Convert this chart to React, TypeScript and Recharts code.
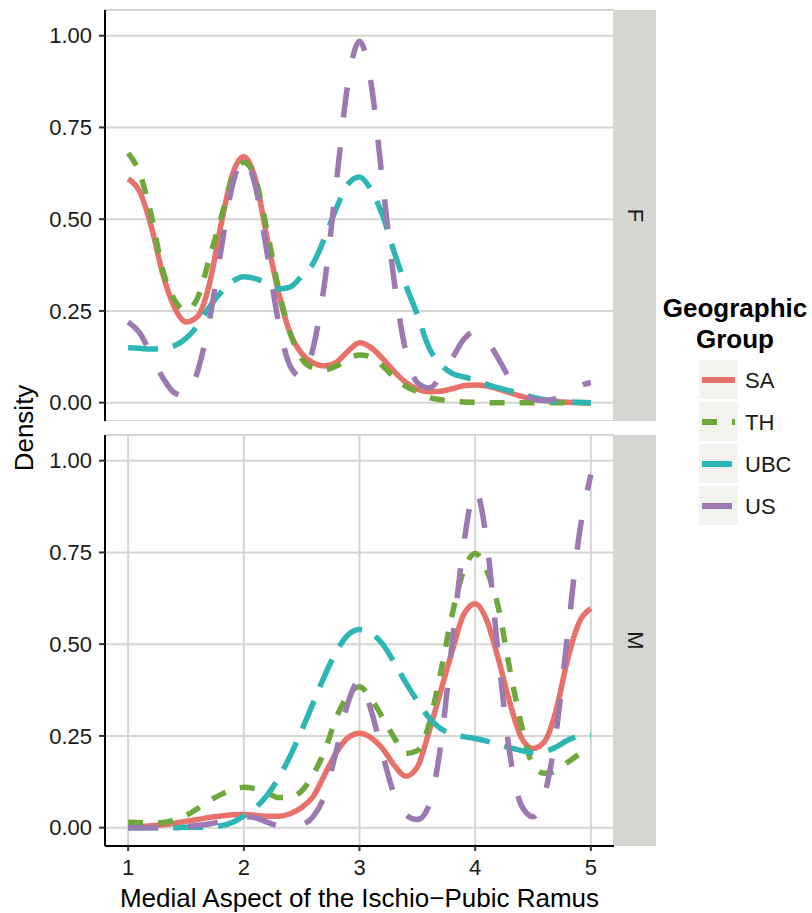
import { LineChart, Line, XAxis, YAxis, CartesianGrid } from "recharts";

// density estimates, read at steps of 0.1 along the score axis
const xValues = [
  1.0, 1.1, 1.2, 1.3, 1.4, 1.5, 1.6, 1.7, 1.8, 1.9, 2.0, 2.1, 2.2, 2.3, 2.4, 2.5, 2.6, 2.7, 2.8, 2.9, 3.0,
  3.1, 3.2, 3.3, 3.4, 3.5, 3.6, 3.7, 3.8, 3.9, 4.0, 4.1, 4.2, 4.3, 4.4, 4.5, 4.6, 4.7, 4.8, 4.9, 5.0,
];

const femaleSA = [
  0.61, 0.575, 0.48, 0.35, 0.26, 0.22, 0.235, 0.32, 0.48, 0.62, 0.67, 0.61, 0.45, 0.3, 0.19, 0.134, 0.108, 0.1, 0.11, 0.14, 0.163,
  0.15, 0.12, 0.085, 0.055, 0.037, 0.03, 0.031, 0.038, 0.046, 0.048, 0.045, 0.037, 0.027, 0.017, 0.01, 0.006, 0.003, 0.001, 0, 0,
];
const femaleTH = [
  0.68, 0.625, 0.51, 0.36, 0.28, 0.252, 0.285, 0.39, 0.5, 0.61, 0.655, 0.61, 0.47, 0.31, 0.19, 0.12, 0.095, 0.09, 0.1, 0.12, 0.13,
  0.125, 0.1, 0.07, 0.045, 0.03, 0.015, 0.008, 0.004, 0.002, 0.001, 0, 0, 0, 0, 0, 0, 0, 0, 0, 0,
];
const femaleUBC = [
  0.15, 0.148, 0.146, 0.148, 0.155, 0.175, 0.21, 0.26, 0.3, 0.33, 0.343, 0.338, 0.325, 0.31, 0.315, 0.345, 0.38, 0.45, 0.53, 0.595, 0.615,
  0.58, 0.51, 0.41, 0.32, 0.24, 0.15, 0.105, 0.08, 0.07, 0.062, 0.05, 0.04, 0.032, 0.025, 0.015, 0.008, 0.004, 0.002, 0.001, 0,
];
const femaleUS = [
  0.22, 0.19, 0.13, 0.068, 0.027, 0.018, 0.085, 0.22, 0.41, 0.59, 0.665, 0.59, 0.41, 0.22, 0.1, 0.07, 0.15, 0.33, 0.6, 0.87, 0.985,
  0.87, 0.6, 0.33, 0.14, 0.055, 0.04, 0.07, 0.12, 0.172, 0.195, 0.172, 0.12, 0.065, 0.028, 0.01, 0.006, 0.012, 0.025, 0.045, 0.055,
];

const maleSA = [
  0.002, 0.003, 0.005, 0.008, 0.012, 0.017, 0.022, 0.028, 0.032, 0.035, 0.036, 0.034, 0.031, 0.031, 0.038, 0.055, 0.085, 0.145, 0.205, 0.245, 0.257,
  0.245, 0.215, 0.17, 0.14, 0.165, 0.26, 0.37, 0.48, 0.58, 0.61, 0.565, 0.46, 0.34, 0.245, 0.216, 0.235, 0.32, 0.46, 0.56, 0.597,
];
const maleTH = [
  0.015, 0.014, 0.013, 0.014, 0.02, 0.033, 0.052, 0.073, 0.09, 0.104, 0.11, 0.106, 0.095, 0.082, 0.083, 0.1, 0.145, 0.21, 0.3, 0.36, 0.384,
  0.35, 0.3, 0.245, 0.202, 0.21, 0.28, 0.42, 0.58, 0.7, 0.747, 0.7, 0.6, 0.43, 0.28, 0.17, 0.148, 0.155, 0.178, 0.2, 0.218,
];
const maleUBC = [
  0, 0, 0, 0, 0, 0.001, 0.001, 0.002, 0.005, 0.014, 0.032, 0.054, 0.088, 0.135, 0.195, 0.265, 0.34, 0.415, 0.48, 0.525, 0.54,
  0.53, 0.5, 0.45, 0.395, 0.345, 0.3, 0.27, 0.255, 0.248, 0.243, 0.236, 0.227, 0.218, 0.21, 0.205, 0.208, 0.22, 0.238, 0.25, 0.252,
];
const maleUS = [
  0, 0, 0, 0.001, 0.002, 0.003, 0.006, 0.01, 0.016, 0.024, 0.03, 0.027, 0.015, 0.005, 0.002, 0.008, 0.03, 0.09, 0.21, 0.34, 0.4,
  0.32, 0.2, 0.09, 0.035, 0.022, 0.06, 0.22, 0.5, 0.77, 0.92, 0.78, 0.47, 0.2, 0.06, 0.03, 0.09, 0.26, 0.53, 0.8, 0.962,
];

const groups = ["SA", "TH", "UBC", "US"];
const panels = ["F", "M"];
const xTicks = [1, 2, 3, 4, 5];
const yTicks = [0, 0.25, 0.5, 0.75, 1];

const COLORS: Record<string, string> = { SA: "#e8716a", TH: "#6ea83c", UBC: "#2db7b4", US: "#9c79b0" };
const DASHES: Record<string, string | undefined> = { SA: undefined, TH: "15 15", UBC: "30 15", US: "30 30" };

const FONT = "'Liberation Sans', Arial, Helvetica, sans-serif";
const GRID = "#d6d6d0";
const STRIP = "#d5d5d1";

// plot box, shared by both facets
const PLOT_LEFT = 105;
const PLOT_RIGHT = 614;
const PANEL_H = 411;
const TOP_Y = 10;
const BOTTOM_Y = 435;

function toRows(series: number[][]) {
  return xValues.map((x, i) => {
    const row: Record<string, number> = { x };
    groups.forEach((g, j) => {
      row[g] = series[j][i];
    });
    return row;
  });
}

const femaleRows = toRows([femaleSA, femaleTH, femaleUBC, femaleUS]);
const maleRows = toRows([maleSA, maleTH, maleUBC, maleUS]);

function Panel({ data, showX, top }: any) {
  const xAxisH = showX ? 913 - (top + 10 + PANEL_H) : 0;
  return (
    <div style={{ position: "absolute", left: 0, top }}>
      <LineChart
        width={660}
        height={10 + PANEL_H + xAxisH}
        data={data}
        margin={{ top: 10, right: 660 - PLOT_RIGHT, bottom: 0, left: 0 }}
      >
        <CartesianGrid stroke={GRID} strokeWidth={2} fill="none" />
        {showX ? (
          <XAxis
            type="number"
            dataKey="x"
            domain={[0.8, 5.2]}
            ticks={xTicks}
            height={xAxisH}
            tickSize={5}
            tickMargin={8}
            axisLine={{ stroke: "#000", strokeWidth: 2 }}
            tickLine={{ stroke: "#333", strokeWidth: 2 }}
            tick={{ fill: "#1a1a1a", fontSize: 22 }}
            label={{
              value: "Medial Aspect of the Ischio\u2212Pubic Ramus",
              position: "insideBottom",
              offset: 6,
              fill: "#000",
              fontSize: 26,
            }}
          />
        ) : (
          <XAxis
            type="number"
            dataKey="x"
            domain={[0.8, 5.2]}
            ticks={xTicks}
            height={0}
            tick={false}
            axisLine={false}
            tickLine={false}
          />
        )}
        <YAxis
          type="number"
          domain={[-0.05, 1.07]}
          allowDataOverflow
          ticks={yTicks}
          tickFormatter={(v: number) => v.toFixed(2)}
          width={PLOT_LEFT}
          tickSize={6}
          tickMargin={7}
          axisLine={{ stroke: "#000", strokeWidth: 2 }}
          tickLine={{ stroke: "#333", strokeWidth: 2 }}
          tick={{ fill: "#1a1a1a", fontSize: 22 }}
        />
        {groups.map((g) => (
          <Line
            key={g}
            dataKey={g}
            type="monotone"
            stroke={COLORS[g]}
            strokeWidth={5.5}
            strokeDasharray={DASHES[g]}
            dot={false}
            activeDot={false}
            isAnimationActive={false}
          />
        ))}
      </LineChart>
    </div>
  );
}

function Overlay() {
  const legendTop = 360;
  return (
    <svg
      width={812}
      height={913}
      style={{ position: "absolute", left: 0, top: 0, pointerEvents: "none", fontFamily: FONT }}
    >
      {panels.map((p, i) => {
        const y = i === 0 ? TOP_Y : BOTTOM_Y;
        const cx = PLOT_RIGHT + 21;
        const cy = y + PANEL_H / 2;
        return (
          <g key={p}>
            <rect x={PLOT_RIGHT + 0.5} y={y} width={41.5} height={PANEL_H} fill={STRIP} />
            <text
              x={cx}
              y={cy}
              fontSize={22}
              fill="#1a1a1a"
              textAnchor="middle"
              dominantBaseline="central"
              transform={`rotate(90 ${cx} ${cy})`}
            >
              {p}
            </text>
          </g>
        );
      })}
      <text
        x={24}
        y={428}
        fontSize={26}
        fill="#000"
        textAnchor="middle"
        dominantBaseline="central"
        transform="rotate(-90 24 428)"
      >
        Density
      </text>
      <text x={735} y={317} fontSize={26} fontWeight="bold" fill="#000" textAnchor="middle">
        Geographic
      </text>
      <text x={735} y={348} fontSize={26} fontWeight="bold" fill="#000" textAnchor="middle">
        Group
      </text>
      {groups.map((g, i) => {
        const y = legendTop + i * 42;
        return (
          <g key={g}>
            <rect x={699} y={y} width={39} height={39} fill="#f2f2ef" />
            <line
              x1={702}
              x2={735}
              y1={y + 20}
              y2={y + 20}
              stroke={COLORS[g]}
              strokeWidth={6}
              strokeDasharray={DASHES[g]}
            />
            <text x={745} y={y + 20} fontSize={22} fill="#1a1a1a" dominantBaseline="central">
              {g}
            </text>
          </g>
        );
      })}
    </svg>
  );
}

export default function App() {
  return (
    <div
      style={{
        position: "absolute",
        left: 0,
        top: 0,
        width: 812,
        height: 913,
        background: "#fff",
        fontFamily: FONT,
      }}
    >
      <Panel data={femaleRows} showX={false} top={0} />
      <Panel data={maleRows} showX={true} top={BOTTOM_Y - 10} />
      <Overlay />
    </div>
  );
}
